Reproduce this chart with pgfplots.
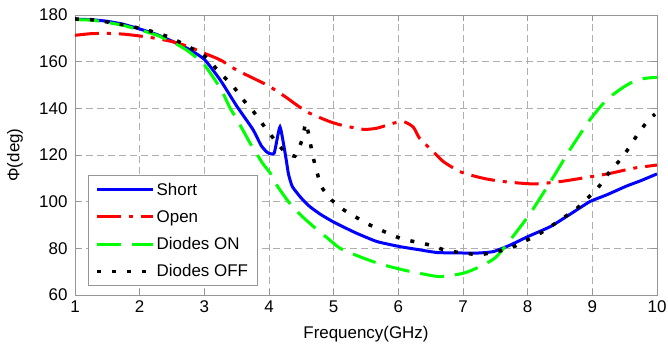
\documentclass[border=0pt]{standalone}
\usepackage{pgfplots}
\pgfplotsset{compat=1.18}
\usepackage{fontspec}
\setmainfont{Liberation Sans}
\definecolor{gridgray}{RGB}{175,175,175}
\definecolor{axgray}{RGB}{150,150,150}
\begin{document}
\begin{tikzpicture}
\begin{axis}[
  name=ax,
  scale only axis,
  width=582bp, height=280bp,
  xmin=1, xmax=10, ymin=60, ymax=180,
  xtick={1,2,...,10}, ytick={60,80,...,180},
  /pgf/number format/assume math mode=true,
  ticklabel style={font=\fontsize{17}{19}\selectfont},
  xticklabel style={yshift=-2.5bp},
  yticklabel style={xshift=-4bp},
  grid=major,
  major grid style={gridgray, line width=0.8bp, dash pattern=on 7bp off 4bp},
  axis line style={axgray, line width=0.9bp},
  tick style={axgray, line width=0.8bp},
  major tick length=6bp,
  tick align=inside,
  xlabel={Frequency(GHz)},
  ylabel={Φ(deg)},
  xlabel style={font=\fontsize{17}{19}\selectfont, at={(axis description cs:0.5,-0.139)}, anchor=center},
  ylabel style={font=\fontsize{17}{19}\selectfont, at={(axis description cs:-0.103,0.5)}, anchor=center},
  legend style={at={(axis description cs:0.022,0.032)}, anchor=south west,
    font=\fontsize{17}{19}\selectfont, draw=axgray, line width=0.8bp, fill=white,
    row sep=9.5bp, inner xsep=7bp, inner ysep=5.5bp},
  legend cell align=left,
  legend image code/.code={\draw[#1] (0bp,0bp) -- (56bp,0bp);},
]
\addplot[blue, line width=3bp, smooth, tension=0.3] coordinates {
(1,178.2)(1.25,178)(1.5,177.3)(1.75,176)(2,174)(2.25,171.8)(2.5,168.8)(2.75,165.5)(3,161)(3.25,152)(3.5,141)(3.75,131)(3.88,124)(3.98,121)(4.08,120.8)(4.17,132)(4.26,119)(4.3,112)(4.36,106.5)(4.5,101.5)(4.63,97.9)(4.8,94.5)(4.99,91.4)(5.2,88.5)(5.36,86.4)(5.67,82.9)(6.03,80.7)(6.3,79.5)(6.6,78.2)(7,78)(7.24,78)(7.47,78.6)(7.73,81.4)(8.0,85)(8.35,89.3)(8.65,94.5)(8.96,100)(9.22,102.9)(9.53,106.7)(9.75,109)(10,111.9)
};
\addlegendentry{Short}
\addplot[red, line width=3bp, dash pattern=on 24bp off 8bp on 4bp off 8bp, smooth, tension=0.4] coordinates {
(1,171.3)(1.25,172)(1.5,172.1)(1.75,171.8)(2,171)(2.25,170)(2.5,168.6)(2.75,166.5)(3,163.6)(3.25,160.7)(3.5,156.4)(3.75,153)(4,149.5)(4.25,145)(4.45,141)(4.63,137.9)(4.94,134.3)(5.15,132.6)(5.46,131)(5.67,131.5)(5.92,133.6)(6.08,134.3)(6.23,132)(6.33,127.1)(6.54,121.4)(6.70,117.1)(6.95,112.9)(7.17,111)(7.37,109.7)(7.63,108.6)(8.09,107.6)(8.5,108.6)(8.91,110.4)(9.27,112.1)(9.63,114.3)(10,115.7)
};
\addlegendentry{Open}
\addplot[green, line width=3bp, dash pattern=on 24bp off 11bp, smooth, tension=0.4] coordinates {
(1,178)(1.25,177.8)(1.5,176.8)(1.75,175.5)(2,173.6)(2.25,171.5)(2.5,168.6)(2.75,164.5)(3,158.6)(3.25,148.5)(3.4,140)(3.5,135.5)(3.71,125)(3.9,116.5)(4.02,112.2)(4.12,107.1)(4.32,99.3)(4.5,94)(4.69,89.3)(4.9,84.5)(5.1,80)(5.35,77)(5.61,74.3)(5.85,72.3)(6.13,70.4)(6.33,69.3)(6.64,67.9)(7.0,69.3)(7.24,71.9)(7.5,76)(7.73,83.6)(8.04,95)(8.4,110.7)(8.65,122.1)(8.96,135)(9.22,143.6)(9.45,148.5)(9.63,151.4)(9.8,152.8)(10,153.3)
};
\addlegendentry{Diodes ON}
\addplot[black, line width=3.5bp, dash pattern=on 4bp off 11bp, smooth, tension=0.3] coordinates {
(1,178.3)(1.25,178)(1.5,177)(1.75,175.8)(2,174.3)(2.25,172.5)(2.5,170)(2.75,166.5)(3,162.5)(3.25,155)(3.45,149.3)(3.6,143.7)(3.76,138.6)(3.91,132.9)(4.07,127.1)(4.22,122.1)(4.4,119.5)(4.51,126.4)(4.57,133.8)(4.63,126.4)(4.68,119.3)(4.74,112.9)(4.81,106.4)(4.97,100.7)(5.16,96.4)(5.56,90)(6.03,84.3)(6.49,81.4)(6.75,79)(7.24,77.3)(7.52,78.6)(7.73,80)(8.19,86.4)(8.5,92.1)(8.76,97.1)(8.96,102.4)(9.12,107.1)(9.27,112.9)(9.43,117.9)(9.58,123.6)(9.71,129.3)(9.87,135)(9.97,137.5)
};
\addlegendentry{Diodes OFF}
\end{axis}
\pgfresetboundingbox
\path ([xshift=-75bp,yshift=-50bp]ax.south west) rectangle ([xshift=11bp,yshift=15bp]ax.north east);
\end{tikzpicture}
\end{document}
